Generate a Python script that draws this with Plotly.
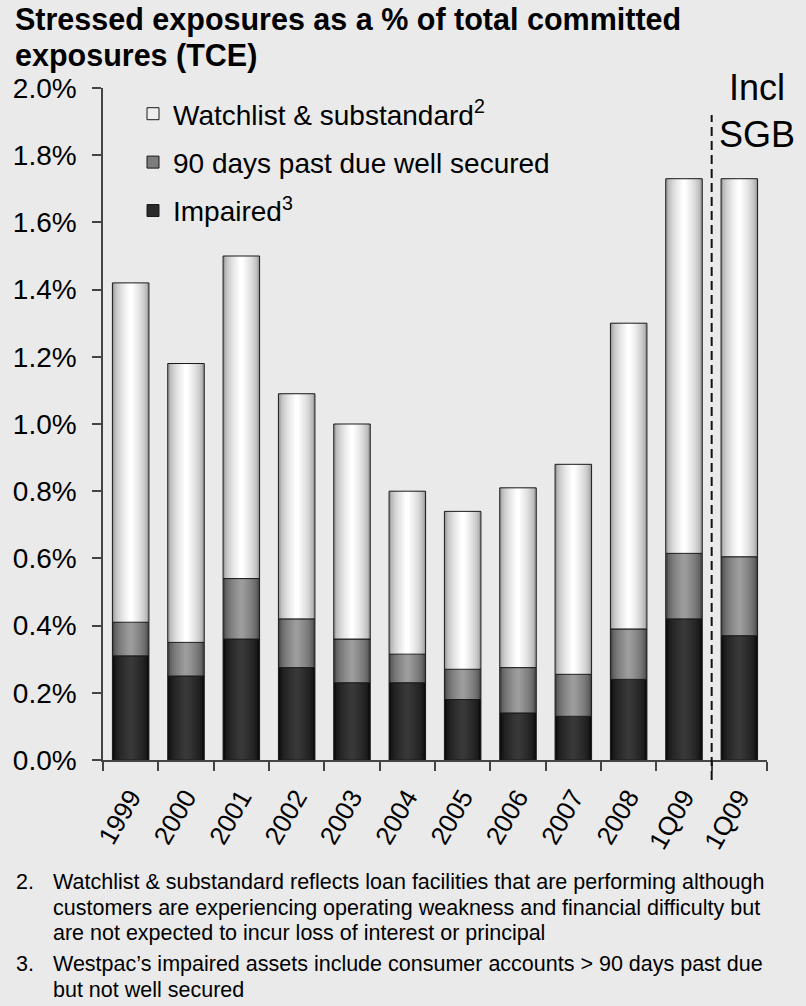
import plotly.graph_objects as go

# Stressed exposures as a % of TCE, by period
periods = ["1999", "2000", "2001", "2002", "2003", "2004", "2005",
           "2006", "2007", "2008", "1Q09", "1Q09"]
impaired = [0.31, 0.25, 0.36, 0.275, 0.23, 0.23, 0.18, 0.14, 0.13, 0.24, 0.42, 0.37]
past_due_90 = [0.10, 0.10, 0.18, 0.145, 0.13, 0.085, 0.09, 0.135, 0.125, 0.15, 0.195, 0.235]
watchlist = [1.01, 0.83, 0.96, 0.67, 0.64, 0.485, 0.47, 0.535, 0.625, 0.91, 1.115, 1.125]
y_ticks = [0.0, 0.2, 0.4, 0.6, 0.8, 1.0, 1.2, 1.4, 1.6, 1.8, 2.0]

FONT = "Liberation Sans, Arial, sans-serif"
BG = "#EAEAEA"
AXIS = "#444444"
BAR_W = 0.66
N_LAYERS = 9

W, H = 806, 1006
L, R, T, B = 103, 39, 88, 246
PLOT_W = W - L - R
PLOT_H = H - T - B


def px_x(x):
    return (x - L) / PLOT_W


def px_y(y):
    return (H - B - y) / PLOT_H


def mix(c1, c2, t):
    a = [int(c1[i:i + 2], 16) for i in (1, 3, 5)]
    b = [int(c2[i:i + 2], 16) for i in (1, 3, 5)]
    return "#" + "".join(f"{round(p + (q - p) * t):02x}" for p, q in zip(a, b))


x_pos = list(range(len(periods)))
base_90 = impaired
base_watch = [a + b for a, b in zip(impaired, past_due_90)]

series = [
    # name, heights, bases, edge colour, centre colour, legend colour, legend rank
    ("Impaired<sup>3</sup>", impaired, [0] * len(impaired), "#0c0c0c", "#383838", "#2a2a2a", 3),
    ("90 days past due well secured", past_due_90, base_90, "#4a4a4a", "#9c9c9c", "#7c7c7c", 2),
    ("Watchlist & substandard<sup>2</sup>", watchlist, base_watch, "#a0a0a0", "#ffffff", "#eeeeee", 1),
]

fig = go.Figure()

for name, vals, base, edge, centre, leg, rank in series:
    # shaded body: nested bars from edge tone to centre tone
    for k in range(N_LAYERS):
        t = (k / (N_LAYERS - 1)) ** 0.55
        fig.add_trace(go.Bar(
            x=x_pos, y=vals, base=base, width=BAR_W * (1 - k / N_LAYERS),
            marker=dict(color=mix(edge, centre, t), line=dict(width=0)),
            showlegend=False, hoverinfo="skip",
        ))
    # segment outline
    fig.add_trace(go.Bar(
        x=x_pos, y=vals, base=base, width=BAR_W,
        marker=dict(color="rgba(0,0,0,0)", line=dict(color="#1a1a1a", width=1)),
        showlegend=False, hoverinfo="skip",
    ))
    # legend entry
    fig.add_trace(go.Bar(
        x=[None], y=[None], name=name, legendrank=rank, legendgroup=name,
        marker=dict(color=leg, line=dict(color="#1a1a1a", width=1)),
        hoverinfo="skip",
    ))

# divider before the pro-forma column
fig.add_shape(type="line", xref="x", yref="paper", x0=10.5, x1=10.5,
              y0=px_y(780), y1=px_y(115),
              line=dict(color="#111111", width=2, dash="9px,5px"))


def note(text, xpx, ypx, size, xanchor="left", bold=False):
    return dict(text=f"<b>{text}</b>" if bold else text,
                xref="paper", yref="paper", x=px_x(xpx), y=px_y(ypx),
                xanchor=xanchor, yanchor="middle", showarrow=False,
                font=dict(size=size, family=FONT, color="#000000"))


annotations = [
    note("Incl<br>SGB", 757, 111, 36, xanchor="center"),
    note("Stressed exposures as a % of total committed", 13, 19, 30.5, bold=True),
    note("exposures (TCE)", 13, 56, 30.5, bold=True),
]

notes = [
    ("2.", "Watchlist & substandard reflects loan facilities that are performing although", 882),
    (None, "customers are experiencing operating weakness and financial difficulty but", 908),
    (None, "are not expected to incur loss of interest or principal", 933),
    ("3.", "Westpac\u2019s impaired assets include consumer accounts > 90 days past due", 964),
    (None, "but not well secured", 990),
]
for num, line, ypx in notes:
    if num:
        annotations.append(note(num, 14, ypx, 21.5))
    annotations.append(note(line, 51, ypx, 21.5))

fig.update_layout(
    width=W, height=H,
    margin=dict(l=L, r=R, t=T, b=B, autoexpand=False),
    paper_bgcolor=BG, plot_bgcolor=BG,
    barmode="overlay",
    font=dict(family=FONT, color="#000000"),
    showlegend=True,
    legend=dict(x=px_x(133), y=px_y(89), xanchor="left", yanchor="top",
                bgcolor="rgba(0,0,0,0)", font=dict(size=28, family=FONT),
                traceorder="grouped", tracegroupgap=9),
    annotations=annotations,
    xaxis=dict(
        range=[-0.5, len(periods) - 0.5],
        tickmode="array", tickvals=x_pos, ticktext=periods,
        tickangle=-60, ticks="", ticklabelstandoff=10,
        tickfont=dict(size=26, family=FONT),
        showline=True, linecolor=AXIS, linewidth=1.5,
        showgrid=False, zeroline=False,
        minor=dict(tickmode="array", tickvals=[i - 0.5 for i in range(len(periods) + 1)],
                   ticks="outside", ticklen=9, tickwidth=1.5, tickcolor=AXIS, showgrid=False),
    ),
    yaxis=dict(
        range=[0, 2.0],
        tickmode="array", tickvals=y_ticks, ticktext=[f"{v:.1f}%" for v in y_ticks],
        ticks="outside", ticklen=9, tickwidth=1.5, tickcolor=AXIS,
        tickfont=dict(size=28, family=FONT), ticklabelstandoff=10,
        showline=True, linecolor=AXIS, linewidth=1.5,
        showgrid=False, zeroline=False,
    ),
)

fig.write_html("out.html")
